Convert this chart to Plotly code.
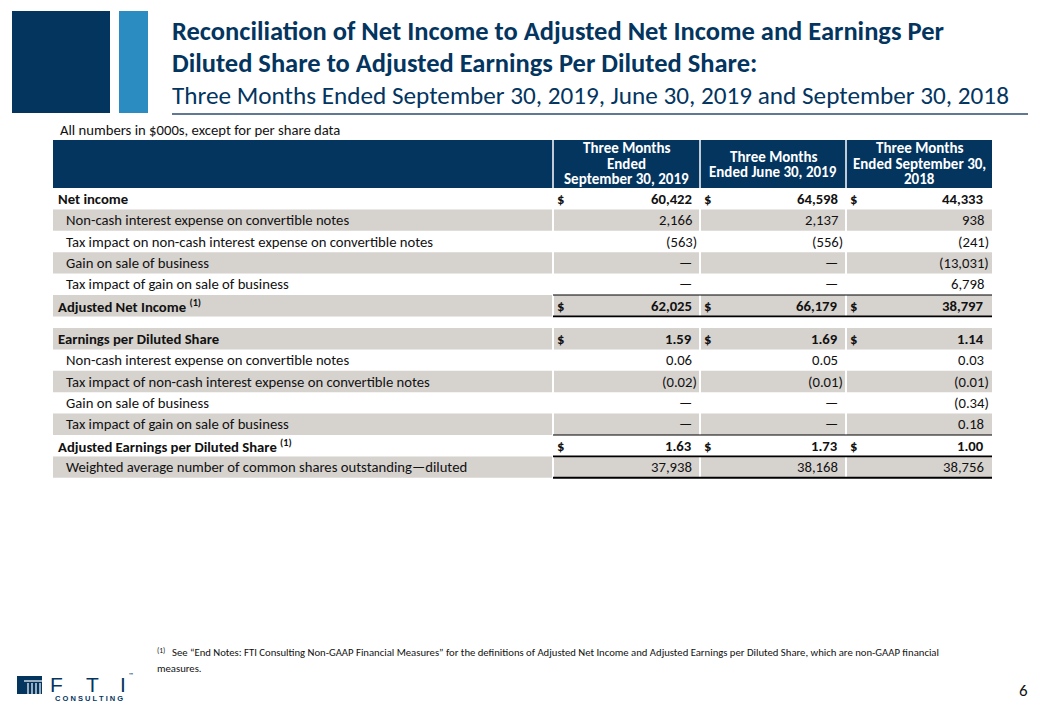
import plotly.graph_objects as go

# ---------------- data ----------------
title_lines = [
    "Reconciliation of Net Income to Adjusted Net Income and Earnings Per",
    "Diluted Share to Adjusted Earnings Per Diluted Share:",
]
subtitle = "Three Months Ended September 30, 2019, June 30, 2019 and September 30, 2018"
note_top = "All numbers in $000s, except for per share data"

col_headers = [
    ["Three Months", "Ended", "September 30, 2019"],
    ["Three Months", "Ended June 30, 2019"],
    ["Three Months", "Ended September 30,", "2018"],
]

ni_labels = [
    "Net income",
    "Non-cash interest expense on convertible notes",
    "Tax impact on non-cash interest expense on convertible notes",
    "Gain on sale of business",
    "Tax impact of gain on sale of business",
    "Adjusted Net Income <sup>(1)</sup>",
]
ni_q3_2019 = [60422, 2166, -563, None, None, 62025]
ni_q2_2019 = [64598, 2137, -556, None, None, 66179]
ni_q3_2018 = [44333, 938, -241, -13031, 6798, 38797]
ni_bold = [True, False, False, False, False, True]

eps_labels = [
    "Earnings per Diluted Share",
    "Non-cash interest expense on convertible notes",
    "Tax impact of non-cash interest expense on convertible notes",
    "Gain on sale of business",
    "Tax impact of gain on sale of business",
    "Adjusted Earnings per Diluted Share <sup>(1)</sup>",
    "Weighted average number of common shares outstanding\u2014diluted",
]
eps_q3_2019 = [1.59, 0.06, -0.02, None, None, 1.63, 37938]
eps_q2_2019 = [1.69, 0.05, -0.01, None, None, 1.73, 38168]
eps_q3_2018 = [1.14, 0.03, -0.01, -0.34, 0.18, 1.00, 38756]
eps_bold = [True, False, False, False, False, True, False]
eps_decimals = [2, 2, 2, 2, 2, 2, 0]

footnote_1 = ("See \u201cEnd Notes: FTI Consulting Non-GAAP Financial Measures\u201d for the definitions of "
              "Adjusted Net Income and Adjusted Earnings per Diluted Share, which are non-GAAP financial")
footnote_2 = "measures."
page_no = "6"

# ---------------- style ----------------
NAVY = "#03355F"
LIGHT_BLUE = "#2B8CC2"
GRAY = "#D6D2CE"
TXT = "#111111"
FONT = "Carlito, Calibri, 'Open Sans', sans-serif"
W, H = 1040, 720

tbl_left, tbl_right = 53, 992
col_edges = [553, 700, 846, 992]
row_h = 21.4
hdr_top, hdr_bot = 140, 188
blk1_top = 188
blk2_top = 328
BODY = 14.7

shapes = []
ann = []


def text(x, y, s, size=BODY, color=TXT, xanchor="left", yanchor="middle", bold=False, family=FONT):
    if bold:
        s = "<b>" + s + "</b>"
    ann.append(dict(x=x, y=y, xref="x", yref="y", text=s, showarrow=False,
                    xanchor=xanchor, yanchor=yanchor, borderpad=0,
                    font=dict(size=size, color=color, family=family)))


def rect(x0, y0, x1, y1, color):
    shapes.append(dict(type="rect", xref="x", yref="y", x0=x0, y0=y0, x1=x1, y1=y1,
                       fillcolor=color, line=dict(width=0), layer="below"))


def hline(x0, x1, y, width=1, color="#000000"):
    shapes.append(dict(type="line", xref="x", yref="y", x0=x0, x1=x1, y0=y, y1=y,
                       line=dict(color=color, width=width)))


def fmt(v, dec):
    if v is None:
        return "\u2014"
    s = f"{abs(v):,.{dec}f}"
    return f"({s})" if v < 0 else s


# logo blocks
rect(12, 11, 110, 113, NAVY)
rect(119, 11, 148, 113, LIGHT_BLUE)

# titles
text(171, 31, title_lines[0], size=26.5, color=NAVY, bold=True)
text(171, 63, title_lines[1], size=26.5, color=NAVY, bold=True)
text(171, 95, subtitle, size=25.2, color=NAVY)
hline(172, 1028, 114, width=1.5, color="#2C4B6E")
text(59, 130, note_top)

# header
rect(tbl_left, hdr_top, tbl_right, hdr_bot, NAVY)
hdr_line_y = {3: [148, 163.5, 179], 2: [156.5, 172]}
for ci, lines in enumerate(col_headers):
    cx = (col_edges[ci] + col_edges[ci + 1]) / 2
    for li, ln in enumerate(lines):
        text(cx, hdr_line_y[len(lines)][li], ln, size=15, color="white", xanchor="center", bold=True)
for xe in col_edges[:3]:
    shapes.append(dict(type="line", xref="x", yref="y", x0=xe, x1=xe, y0=hdr_top, y1=hdr_bot,
                       line=dict(color="white", width=1.5)))


def draw_block(top, labels, cols, bold, decimals, gray_parity, totals, bottom_thick):
    n = len(labels)
    for i in range(n):
        y0 = top + i * row_h
        y1 = y0 + row_h
        yc = (y0 + y1) / 2
        if i % 2 == gray_parity:
            rect(tbl_left, y0, col_edges[0] - 1, y1, GRAY)
            for ci in range(3):
                rect(col_edges[ci] + 1, y0, col_edges[ci + 1] - (1 if ci < 2 else 0), y1, GRAY)
        lx = 57 if bold[i] else 65
        text(lx, yc, labels[i], bold=bold[i])
        for ci in range(3):
            v = cols[ci][i]
            s = fmt(v, decimals[i])
            right = col_edges[ci + 1] - 7
            if s.endswith(")"):
                right += 4.5
            text(right, yc, s, xanchor="right", bold=bold[i])
            if bold[i]:
                text(col_edges[ci] + 3, yc, "$", bold=True)
        if i in totals:
            hline(col_edges[0], tbl_right, y0, width=1.2)
            hline(col_edges[0], tbl_right, y1, width=1.6)
    if bottom_thick:
        hline(col_edges[0], tbl_right, top + n * row_h, width=2)


draw_block(blk1_top, ni_labels, [ni_q3_2019, ni_q2_2019, ni_q3_2018], ni_bold,
           [0] * len(ni_labels), 1, [5], False)
draw_block(blk2_top, eps_labels, [eps_q3_2019, eps_q2_2019, eps_q3_2018], eps_bold,
           eps_decimals, 0, [5], True)

# footnote
text(156, 650, "<sup>(1)</sup>", size=10.7)
text(171, 652, footnote_1, size=10.7)
text(156, 668, footnote_2, size=10.7)

# page number
text(1023, 690, page_no, size=17, xanchor="center")

# FTI logo (bottom left)
rect(17, 676, 42, 694, NAVY)
hline(24, 42, 681, width=1.2, color="white")
for sx in [28, 32, 36, 40]:
    shapes.append(dict(type="line", xref="x", yref="y", x0=sx, x1=sx, y0=683, y1=694,
                       line=dict(color="white", width=1.2)))
for lx, ch in [(56, "F"), (92, "T"), (123, "I")]:
    text(lx, 684, ch, size=21, color=NAVY, xanchor="center", family="'Liberation Sans', sans-serif")
text(89, 698, "C O N S U L T I N G", size=7.5, color=NAVY, xanchor="center", bold=True,
     family="'Liberation Sans', sans-serif")
text(131, 675, "\u2122", size=6, color=NAVY, xanchor="center")

fig = go.Figure()
fig.update_layout(
    width=W, height=H, margin=dict(l=0, r=0, t=0, b=0),
    paper_bgcolor="white", plot_bgcolor="white",
    xaxis=dict(range=[0, W], visible=False, fixedrange=True),
    yaxis=dict(range=[H, 0], visible=False, fixedrange=True),
    shapes=shapes, annotations=ann, showlegend=False,
)
fig.write_html("out.html", config={"displayModeBar": False},
               post_script="document.body.style.margin='0';document.body.style.overflow='hidden';")
